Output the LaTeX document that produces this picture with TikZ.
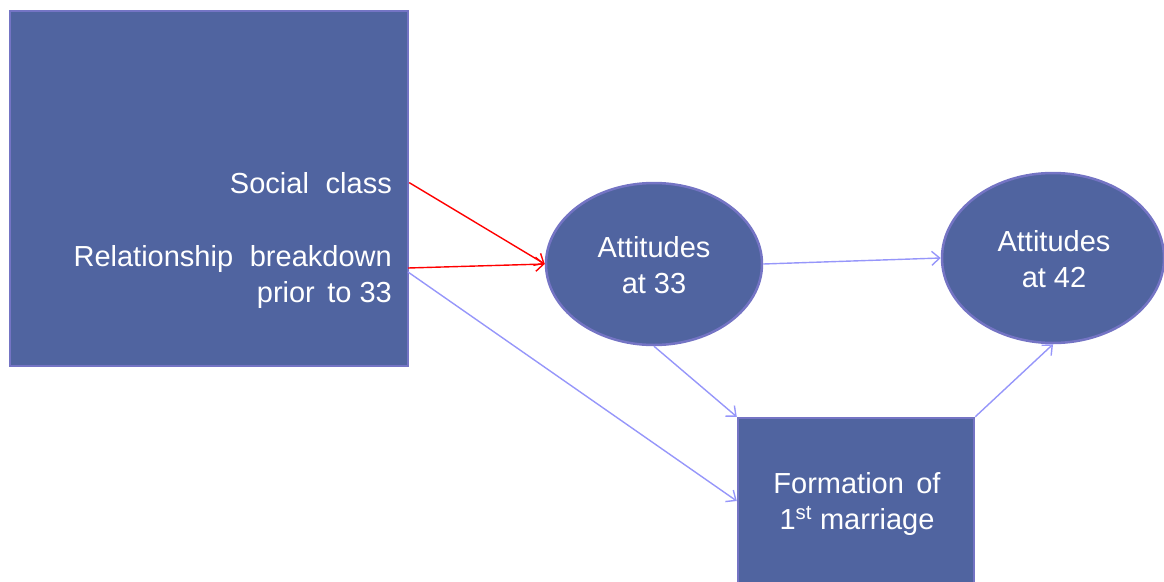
\documentclass[tikz,border=0pt]{standalone}
\usepackage{fontspec}
\setmainfont{Liberation Sans}
\usetikzlibrary{shapes.geometric,arrows.meta}
\definecolor{boxfill}{RGB}{80,100,160}
\definecolor{boxline}{RGB}{116,116,196}
\definecolor{linkblue}{RGB}{150,150,250}
\definecolor{linkred}{RGB}{255,0,0}
\begin{document}
\begin{tikzpicture}[x=1pt,y=-1pt,
  blockbox/.style={draw=boxline,line width=2.5pt,fill=boxfill,rectangle,inner sep=0pt},
  bubble/.style={draw=boxline,line width=2.5pt,fill=boxfill,ellipse,inner sep=0pt,
    minimum width=216pt,minimum height=162pt},
  label/.style={text=white,font=\fontsize{29}{36}\selectfont,inner sep=0pt},
  link/.style={draw=linkblue,line width=1.4pt,-{Straight Barb[length=8pt,width=14pt,line width=1.4pt]}},
  redlink/.style={link,draw=linkred}]
\useasboundingbox (0,0) rectangle (1164,581);

% factor box on the left
\node[blockbox,minimum width=398pt,minimum height=355pt] (factors) at (209,188.5) {};
\node[label,anchor=base east] (social) at (392,193) {Social\hspace{0.3em} class};
% base of a multi-line label is the baseline of its last line
\node[label,anchor=base east,align=right] (breakdown) at (392,302)
  {Relationship\hspace{0.3em} breakdown\\prior\hspace{0.15em} to 33};

% attitude bubbles
\node[bubble] (att33) at (654,264) {};
\node[label,align=center,anchor=base] at (654,293) {Attitudes\\at 33};
\node[bubble,minimum width=222pt,minimum height=170pt] (att42) at (1053,258) {};
\node[label,align=center,anchor=base] at (1054,287) {Attitudes\\at 42};

% marriage box
\node[blockbox,minimum width=236pt,minimum height=166pt] (marriage) at (856,501) {};
\node[label,align=center,anchor=base] at (857,529) {Formation\hspace{0.15em} of\\1\textsuperscript{st} marriage};

% connectors
\coordinate (socialout) at (social.east -| factors.east);
\coordinate (breakout) at (408,268);
\coordinate (breakout2) at (408,272);
\draw[redlink] (socialout) -- (att33.west);
\draw[redlink] (breakout) -- (att33.west);
\draw[link] (breakout2) -- (marriage.west);
\draw[link] (att33.east) -- (att42.west);
\draw[link] (att33.south) -- (marriage.north west);
\draw[link] (marriage.north east) -- (att42.south);
\end{tikzpicture}
\end{document}
